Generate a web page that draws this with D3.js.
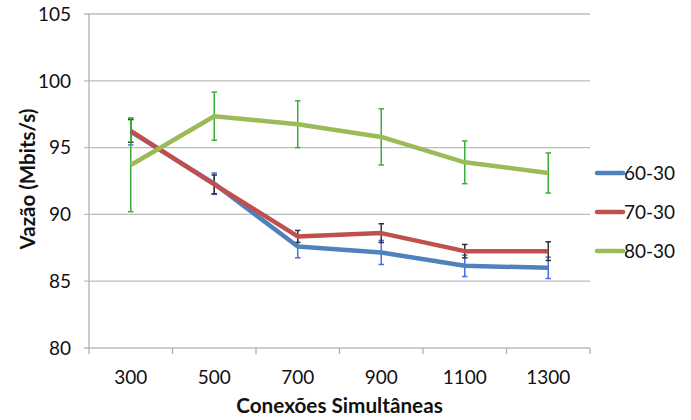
<!DOCTYPE html>
<html>
<head>
<meta charset="utf-8">
<script src="https://cdn.jsdelivr.net/npm/d3@7"></script>
<style>
  html, body { margin: 0; padding: 0; background: #fff; }
  svg { display: block; }
  text { font-family: Lato, "Open Sans", sans-serif; fill: #111; }
</style>
</head>
<body>
<svg id="chart" width="691" height="420"></svg>
<script>
const categories = ["300", "500", "700", "900", "1100", "1300"];
const seriesNames = ["60-30", "70-30", "80-30"];
const values6030 = [96.2, 92.3, 87.6, 87.15, 86.15, 86.0];
const errors6030 = [1.0, 0.8, 0.85, 0.9, 0.8, 0.8];
const values7030 = [96.25, 92.25, 88.35, 88.6, 87.25, 87.25];
const errors7030 = [0.85, 0.7, 0.45, 0.7, 0.5, 0.7];
const values8030 = [93.7, 97.35, 96.75, 95.8, 93.9, 93.1];
const errors8030 = [3.5, 1.8, 1.75, 2.1, 1.6, 1.5];
const yTicks = [80, 85, 90, 95, 100, 105];
const xTitle = "Conexões Simultâneas";
const yTitle = "Vazão (Mbits/s)";
const lineColors = ["#4f81bd", "#c0504d", "#9bbb59"];
const errColors = ["#4a6cf0", "#333333", "#3cae3c"];

const series = [
  { name: seriesNames[0], values: values6030, errors: errors6030 },
  { name: seriesNames[1], values: values7030, errors: errors7030 },
  { name: seriesNames[2], values: values8030, errors: errors8030 }
];

const svg = d3.select("#chart");
const mLeft = 89, mRight = 590, mTop = 14, mBottom = 348;

const x = d3.scaleBand().domain(categories).range([mLeft, mRight]).padding(0);
const y = d3.scaleLinear().domain([80, 105]).range([mBottom, mTop]);
const cx = c => x(c) + x.bandwidth() / 2;

// gridlines
svg.append("g")
  .selectAll("line")
  .data(yTicks)
  .join("line")
  .attr("x1", mLeft - 5).attr("x2", mRight)
  .attr("y1", d => y(d)).attr("y2", d => y(d))
  .attr("stroke", "#bdbdbd").attr("stroke-width", 1.3);

// y axis line
svg.append("line")
  .attr("x1", mLeft).attr("x2", mLeft)
  .attr("y1", mTop).attr("y2", mBottom + 0.5)
  .attr("stroke", "#b0b0b0").attr("stroke-width", 1.3);

// x axis ticks (between categories)
const xTickPos = categories.map(c => x(c)).concat([mRight]);
svg.append("g")
  .selectAll("line")
  .data(xTickPos)
  .join("line")
  .attr("x1", d => d).attr("x2", d => d)
  .attr("y1", mBottom).attr("y2", mBottom + 6)
  .attr("stroke", "#b0b0b0").attr("stroke-width", 1.3);

// y tick labels
svg.append("g")
  .selectAll("text")
  .data(yTicks)
  .join("text")
  .attr("x", 71)
  .attr("y", d => y(d))
  .attr("dy", "0.36em")
  .attr("text-anchor", "end")
  .attr("font-size", 19)
  .text(d => d);

// x tick labels
svg.append("g")
  .selectAll("text")
  .data(categories)
  .join("text")
  .attr("x", d => cx(d))
  .attr("y", 384)
  .attr("text-anchor", "middle")
  .attr("font-size", 19)
  .text(d => d);

// axis titles
svg.append("text")
  .attr("x", (mLeft + mRight) / 2)
  .attr("y", 413)
  .attr("text-anchor", "middle")
  .attr("font-size", 20.7)
  .attr("font-weight", "bold")
  .text(xTitle);

svg.append("text")
  .attr("transform", "translate(28," + 179 + ") rotate(-90)")
  .attr("dy", "0.36em")
  .attr("text-anchor", "middle")
  .attr("font-size", 20.5)
  .attr("font-weight", "bold")
  .text(yTitle);

// error bars
const capW = 5.5;
series.forEach((s, i) => {
  const g = svg.append("g").attr("stroke", errColors[i]).attr("stroke-width", 1.5);
  categories.forEach((c, j) => {
    const v = s.values[j], e = s.errors[j];
    const px = cx(c);
    g.append("line").attr("x1", px).attr("x2", px).attr("y1", y(v + e)).attr("y2", y(v - e));
    g.append("line").attr("x1", px - capW / 2).attr("x2", px + capW / 2).attr("y1", y(v + e)).attr("y2", y(v + e));
    g.append("line").attr("x1", px - capW / 2).attr("x2", px + capW / 2).attr("y1", y(v - e)).attr("y2", y(v - e));
  });
});

// lines
const line = d3.line().x((d, j) => cx(categories[j])).y(d => y(d));
series.forEach((s, i) => {
  svg.append("path")
    .datum(s.values)
    .attr("d", line)
    .attr("fill", "none")
    .attr("stroke", lineColors[i])
    .attr("stroke-width", 4.5)
    .attr("stroke-linejoin", "round")
    .attr("stroke-linecap", "butt");
});

// legend
const legendY = [173, 212, 251];
series.forEach((s, i) => {
  svg.append("line")
    .attr("x1", 597).attr("x2", 623)
    .attr("y1", legendY[i]).attr("y2", legendY[i])
    .attr("stroke", lineColors[i]).attr("stroke-width", 4.5)
    .attr("stroke-linecap", "round");
  svg.append("text")
    .attr("x", 624)
    .attr("y", legendY[i])
    .attr("dy", "0.36em")
    .attr("font-size", 19)
    .text(s.name);
});
</script>
</body>
</html>
